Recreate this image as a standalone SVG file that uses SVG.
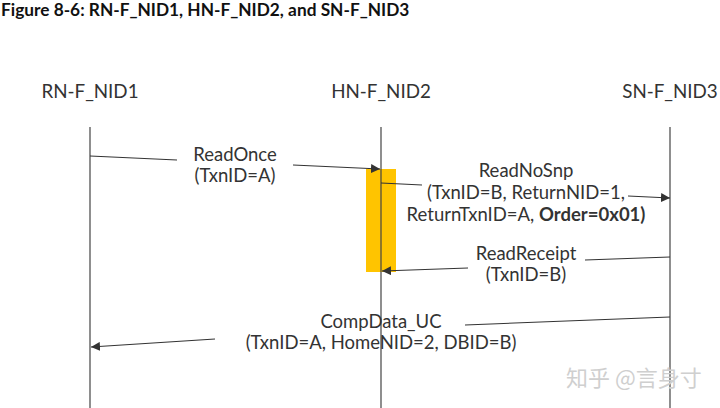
<svg xmlns="http://www.w3.org/2000/svg" width="720" height="408" viewBox="0 0 720 408">
<style>
.t{font-family:Lato,"Liberation Sans",sans-serif;fill:#333;font-size:18.5px;text-anchor:middle}
.h{font-family:Lato,"Liberation Sans",sans-serif;fill:#333;font-size:18.8px;text-anchor:middle}
.ll{stroke:#444;stroke-width:1.2;fill:none}
.c{stroke:#333;stroke-width:1.1;fill:none}
</style>
<defs>
<marker id="a" viewBox="0 0 10 10" refX="10" refY="5" markerWidth="9" markerHeight="9" orient="auto" markerUnits="userSpaceOnUse"><path d="M0,0L10,5L0,10z" fill="#333"/></marker>
</defs>
<rect width="720" height="408" fill="#fff"/>
<text x="1" y="16" font-family="Lato,'Liberation Sans',sans-serif" font-weight="bold" font-size="17.3" fill="#111">Figure 8-6: RN-F_NID1, HN-F_NID2, and SN-F_NID3</text>
<g id="rn">
<text class="h" x="90" y="98">RN-F_NID1</text>
<line class="ll" x1="90" y1="127" x2="90" y2="408"/>
</g>
<g id="hn">
<rect x="366" y="169" width="30" height="103" fill="#FFC400"/>
<text class="h" x="381" y="98">HN-F_NID2</text>
<line class="ll" x1="381" y1="127" x2="381" y2="408"/>
</g>
<g id="sn">
<text class="h" x="670" y="98">SN-F_NID3</text>
<line class="ll" x1="670" y1="127" x2="670" y2="408"/>
</g>
<g id="connectors">
<line class="c" x1="90" y1="156" x2="177" y2="160"/>
<line class="c" x1="293" y1="165" x2="380" y2="169" marker-end="url(#a)"/>
<text class="t" x="235" y="161">ReadOnce</text>
<text class="t" x="235" y="182">(TxnID=A)</text>
<line class="c" x1="381" y1="183" x2="422" y2="185"/>
<line class="c" x1="628" y1="196" x2="670" y2="198" marker-end="url(#a)"/>
<text class="t" x="526" y="177">ReadNoSnp</text>
<text class="t" x="526" y="199">(TxnID=B, ReturnNID=1,</text>
<text class="t" x="526" y="221">ReturnTxnID=A, <tspan font-weight="bold">Order=0x01)</tspan></text>
<line class="c" x1="670" y1="257" x2="585" y2="260"/>
<line class="c" x1="468" y1="268" x2="382" y2="271" marker-end="url(#a)"/>
<text class="t" x="526" y="260">ReadReceipt</text>
<text class="t" x="526" y="281">(TxnID=B)</text>
<line class="c" x1="670" y1="317" x2="465" y2="325"/>
<line class="c" x1="215" y1="339" x2="91" y2="347" marker-end="url(#a)"/>
<text class="t" x="381" y="328">CompData_UC</text>
<text class="t" x="381" y="349">(TxnID=A, HomeNID=2, DBID=B)</text>
</g>
<text x="566" y="386" font-family="'Noto Sans CJK SC',sans-serif" font-size="22" fill="#cfcfcf">知乎 @言身寸</text>
</svg>
